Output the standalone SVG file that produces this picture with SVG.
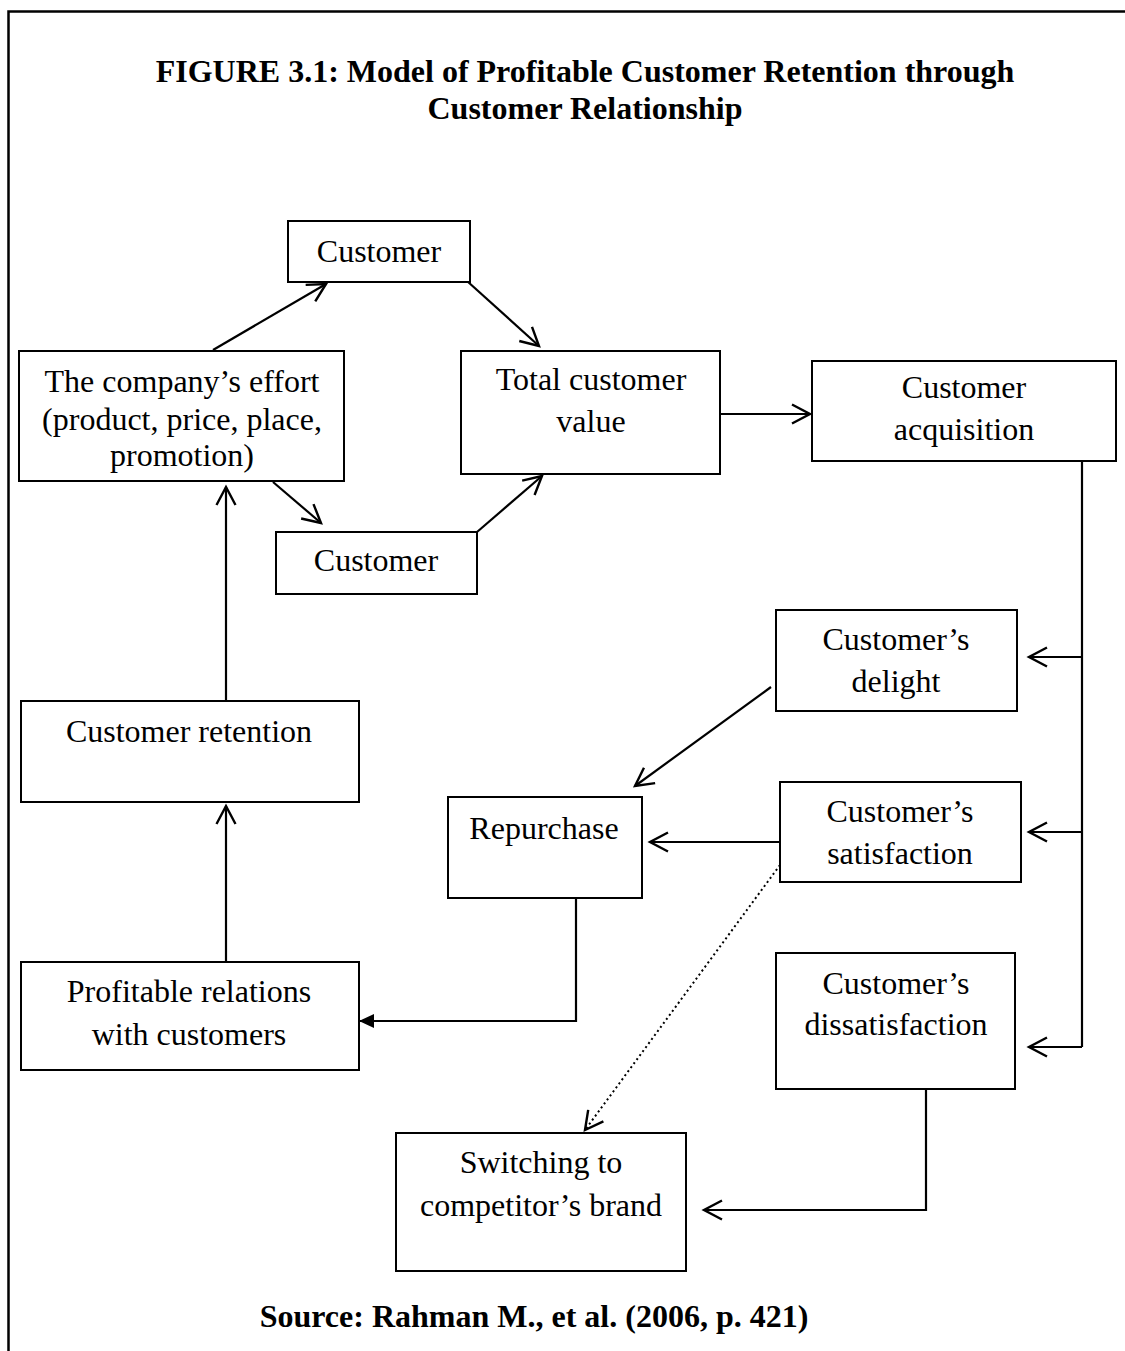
<svg xmlns="http://www.w3.org/2000/svg" width="1125" height="1351" viewBox="0 0 1125 1351">
  <style>
    text { font-family: "Liberation Serif", "Times New Roman", serif; fill: #000; }
    .lbl { font-size: 32px; text-anchor: middle; }
    .ttl { font-size: 32px; font-weight: bold; text-anchor: middle; }
    .box { fill: #fff; stroke: #000; stroke-width: 2; }
    .ln { fill: none; stroke: #000; stroke-width: 2.2; }
    .dot { fill: none; stroke: #000; stroke-width: 2; stroke-dasharray: 2 3; }
  </style>
  <defs>
    <marker id="open" markerUnits="userSpaceOnUse" viewBox="-22 -12 24 24" refX="0" refY="0" markerWidth="24" markerHeight="24" orient="auto" overflow="visible">
      <path d="M-18,-9.5 L0,0 L-18,9.5" fill="none" stroke="#000" stroke-width="2.4"/>
    </marker>
    <marker id="solid" markerUnits="userSpaceOnUse" viewBox="-16 -9 18 18" refX="0" refY="0" markerWidth="18" markerHeight="18" orient="auto" overflow="visible">
      <path d="M-15,-7 L0,0 L-15,7 Z" fill="#000"/>
    </marker>
  </defs>

  <rect width="1125" height="1351" fill="#fff"/>
  <!-- page frame -->
  <rect x="8.5" y="11.5" width="1130" height="1360" fill="none" stroke="#000" stroke-width="2.5"/>

  <!-- heading -->
  <text class="ttl" x="585" y="82">FIGURE 3.1: Model of Profitable Customer Retention through</text>
  <text class="ttl" x="585" y="119">Customer Relationship</text>

  <!-- connectors -->
  <g id="connectors">
    <line class="ln" x1="213" y1="350" x2="326" y2="284" marker-end="url(#open)"/>
    <line class="ln" x1="467" y1="281" x2="539" y2="346" marker-end="url(#open)"/>
    <line class="ln" x1="273" y1="482" x2="321" y2="523" marker-end="url(#open)"/>
    <line class="ln" x1="477" y1="532" x2="542" y2="476" marker-end="url(#open)"/>
    <line class="ln" x1="720" y1="414" x2="810" y2="414" marker-end="url(#open)"/>
    <polyline class="ln" points="1082,461 1082,1047"/>
    <line class="ln" x1="1082" y1="657" x2="1029" y2="657" marker-end="url(#open)"/>
    <line class="ln" x1="1082" y1="832" x2="1029" y2="832" marker-end="url(#open)"/>
    <line class="ln" x1="1082" y1="1047" x2="1029" y2="1047" marker-end="url(#open)"/>
    <line class="ln" x1="771" y1="687" x2="635" y2="786" marker-end="url(#open)"/>
    <line class="ln" x1="780" y1="842" x2="650" y2="842" marker-end="url(#open)"/>
    <line class="dot" x1="780" y1="865" x2="585" y2="1130"/>
    <line x1="600" y1="1110" x2="585" y2="1130" stroke="none" marker-end="url(#open)"/>
    <polyline class="ln" points="926,1089 926,1210 704,1210" marker-end="url(#open)"/>
    <polyline class="ln" points="576,898 576,1021 359,1021" marker-end="url(#solid)"/>
    <line class="ln" x1="226" y1="962" x2="226" y2="806" marker-end="url(#open)"/>
    <line class="ln" x1="226" y1="701" x2="226" y2="487" marker-end="url(#open)"/>
  </g>

  <g id="customer-top">
    <rect class="box" x="288" y="221" width="182" height="61"/>
    <text class="lbl" x="379" y="262">Customer</text>
  </g>
  <g id="company-effort">
    <rect class="box" x="19" y="351" width="325" height="130"/>
    <text class="lbl" x="182" y="392">The company’s effort</text>
    <text class="lbl" x="182" y="430">(product, price, place,</text>
    <text class="lbl" x="182" y="466">promotion)</text>
  </g>
  <g id="total-value">
    <rect class="box" x="461" y="351" width="259" height="123"/>
    <text class="lbl" x="591" y="390">Total customer</text>
    <text class="lbl" x="591" y="432">value</text>
  </g>
  <g id="acquisition">
    <rect class="box" x="812" y="361" width="304" height="100"/>
    <text class="lbl" x="964" y="398">Customer</text>
    <text class="lbl" x="964" y="440">acquisition</text>
  </g>
  <g id="customer-bottom">
    <rect class="box" x="276" y="532" width="201" height="62"/>
    <text class="lbl" x="376" y="571">Customer</text>
  </g>
  <g id="delight">
    <rect class="box" x="776" y="610" width="241" height="101"/>
    <text class="lbl" x="896" y="650">Customer’s</text>
    <text class="lbl" x="896" y="692">delight</text>
  </g>
  <g id="retention">
    <rect class="box" x="21" y="701" width="338" height="101"/>
    <text class="lbl" x="189" y="742">Customer retention</text>
  </g>
  <g id="repurchase">
    <rect class="box" x="448" y="797" width="194" height="101"/>
    <text class="lbl" x="544" y="839">Repurchase</text>
  </g>
  <g id="satisfaction">
    <rect class="box" x="780" y="782" width="241" height="100"/>
    <text class="lbl" x="900" y="822">Customer’s</text>
    <text class="lbl" x="900" y="864">satisfaction</text>
  </g>
  <g id="dissatisfaction">
    <rect class="box" x="776" y="953" width="239" height="136"/>
    <text class="lbl" x="896" y="994">Customer’s</text>
    <text class="lbl" x="896" y="1035">dissatisfaction</text>
  </g>
  <g id="profitable">
    <rect class="box" x="21" y="962" width="338" height="108"/>
    <text class="lbl" x="189" y="1002">Profitable relations</text>
    <text class="lbl" x="189" y="1045">with customers</text>
  </g>
  <g id="switching">
    <rect class="box" x="396" y="1133" width="290" height="138"/>
    <text class="lbl" x="541" y="1173">Switching to</text>
    <text class="lbl" x="541" y="1216">competitor’s brand</text>
  </g>

  <!-- source note -->
  <text class="ttl" x="534" y="1327">Source: Rahman M., et al. (2006, p. 421)</text>
</svg>
